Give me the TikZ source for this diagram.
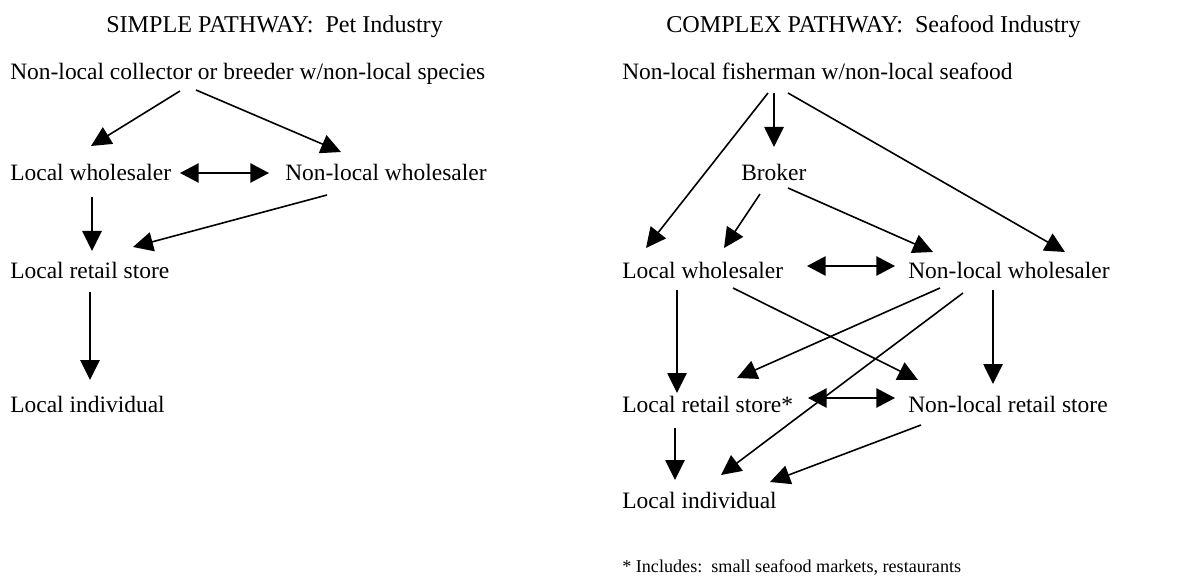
\documentclass[tikz,border=0pt]{standalone}
\usepackage{fontspec}
\setmainfont{Liberation Serif}
\usetikzlibrary{arrows.meta}
\begin{document}
\begin{tikzpicture}[x=0.75pt,y=-0.75pt,
  lbl/.style={anchor=base west,inner sep=0pt,font=\fontsize{17.6}{20}\selectfont},
  ttl/.style={anchor=base west,inner sep=0pt,font=\fontsize{18.1}{20}\selectfont},
  note/.style={anchor=base west,inner sep=0pt,font=\fontsize{13.6}{16}\selectfont},
  arr/.style={line width=1.2pt,-{Triangle[length=15pt,width=14.5pt]}},
  darr/.style={line width=1.2pt,{Triangle[length=14pt,width=14.5pt]}-{Triangle[length=14pt,width=14.5pt]}}]
\useasboundingbox (0,0) rectangle (1181,577);
% Simple pathway
\node[ttl] (st) at (106,33) {SIMPLE PATHWAY:\ \ Pet Industry};
\node[lbl] (s1) at (10,80) {Non-local collector or breeder w/non-local species};
\node[lbl] (slw) at (10,181) {Local wholesaler};
\node[lbl] (snlw) at (285,181) {Non-local wholesaler};
\node[lbl] (slrs) at (10,279) {Local retail store};
\node[lbl] (sli) at (10,412) {Local individual};
\draw[arr] ([shift={(170,11)}]s1.base west) -- ([shift={(81,-35)}]slw.base west);
\draw[arr] ([shift={(186,10)}]s1.base west) -- ([shift={(56,-29)}]snlw.base west);
\draw[darr] ([shift={(170,-8)}]slw.base west) -- ([shift={(-16,-8)}]snlw.base west);
\draw[arr] ([shift={(82,16)}]slw.base west) -- ([shift={(82,-28)}]slrs.base west);
\draw[arr] ([shift={(42,14)}]snlw.base west) -- ([shift={(123,-32)}]slrs.base west);
\draw[arr] ([shift={(80,13)}]slrs.base west) -- ([shift={(80,-32)}]sli.base west);
% Complex pathway
\node[ttl] (ct) at (666,33) {COMPLEX PATHWAY:\ \ Seafood Industry};
\node[lbl] (c1) at (622,80) {Non-local fisherman w/non-local seafood};
\node[lbl] (br) at (741,181) {Broker};
\node[lbl] (clw) at (622,278) {Local wholesaler};
\node[lbl] (cnlw) at (908,278) {Non-local wholesaler};
\node[lbl] (clrs) at (622,412) {Local retail store*};
\node[lbl] (cnlrs) at (908,412) {Non-local retail store};
\node[lbl] (cli) at (622,508) {Local individual};
\node[note] (fn) at (622,572) {* Includes:\ \ small seafood markets, restaurants};
\draw[arr] ([shift={(146,13)}]c1.base west) -- ([shift={(24,-30)}]clw.base west);
\draw[arr] ([shift={(152,13)}]c1.base west) -- ([shift={(33,-34)}]br.base west);
\draw[arr] ([shift={(166,13)}]c1.base west) -- ([shift={(157,-26)}]cnlw.base west);
\draw[arr] ([shift={(19,13)}]br.base west) -- ([shift={(102,-30)}]clw.base west);
\draw[arr] ([shift={(47,7)}]br.base west) -- ([shift={(25,-26)}]cnlw.base west);
\draw[darr] ([shift={(185,-12)}]clw.base west) -- ([shift={(-13,-12)}]cnlw.base west);
\draw[arr] ([shift={(55,12)}]clw.base west) -- ([shift={(55,-19)}]clrs.base west);
\draw[arr] ([shift={(111,10)}]clw.base west) -- ([shift={(10,-32)}]cnlrs.base west);
\draw[arr] ([shift={(32,10)}]cnlw.base west) -- ([shift={(115,-34)}]clrs.base west);
\draw[arr] ([shift={(55,15)}]cnlw.base west) -- ([shift={(99,-33)}]cli.base west);
\draw[arr] ([shift={(85,12)}]cnlw.base west) -- ([shift={(85,-28)}]cnlrs.base west);
\draw[darr] ([shift={(186,-14)}]clrs.base west) -- ([shift={(-13,-14)}]cnlrs.base west);
\draw[arr] ([shift={(53,16)}]clrs.base west) -- ([shift={(53,-28)}]cli.base west);
\draw[arr] ([shift={(13,13)}]cnlrs.base west) -- ([shift={(148,-26)}]cli.base west);
\end{tikzpicture}
\end{document}
